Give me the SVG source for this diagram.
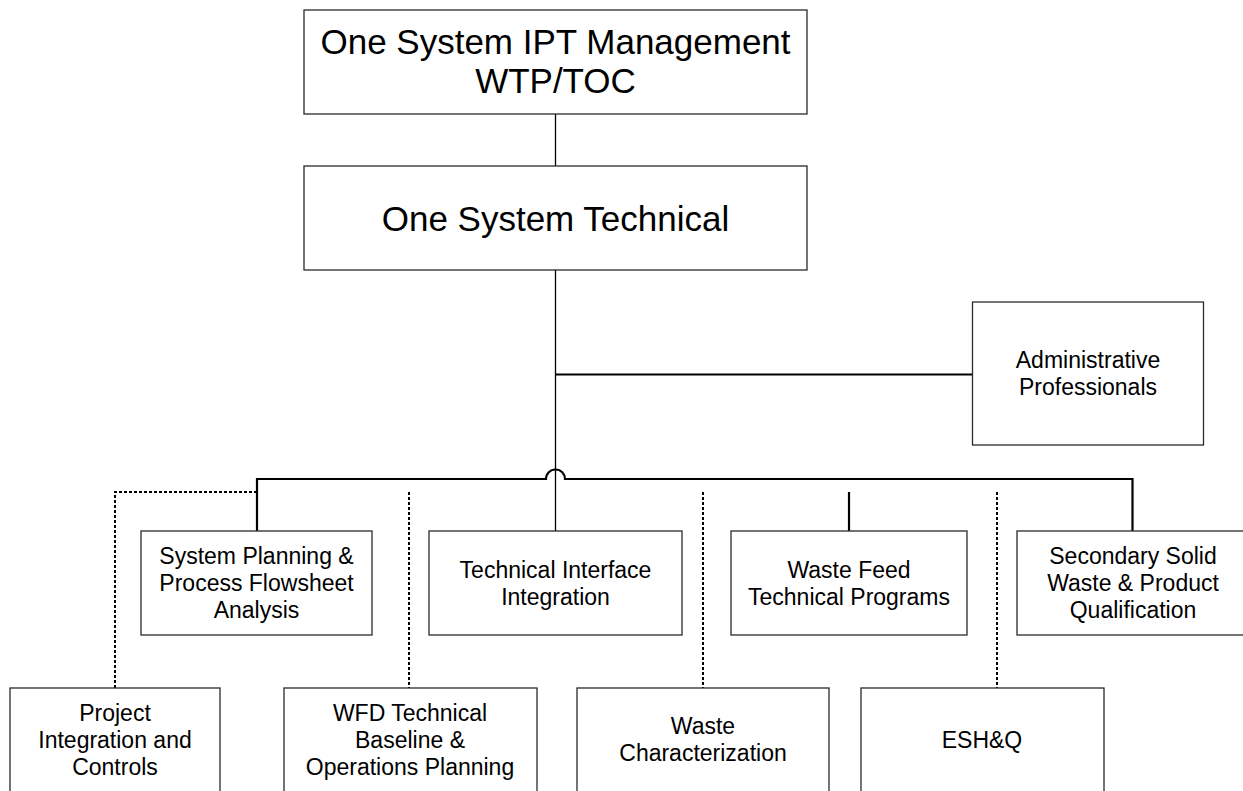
<svg xmlns="http://www.w3.org/2000/svg" width="1243" height="791" viewBox="0 0 1243 791">
  <style>
    .box { fill: #ffffff; stroke: #2a2a2a; stroke-width: 1.3; }
    .lbl { font-family: "Liberation Sans", Arial, sans-serif; font-size: 23px; fill: #000; text-anchor: middle; }
    .big { font-size: 35px; }
    .thin { fill: none; stroke: #000; stroke-width: 1.3; }
    .bold { fill: none; stroke: #000; stroke-width: 2.2; }
    .dot { fill: none; stroke: #000; stroke-width: 2; stroke-dasharray: 3 2; }
  </style>
  <rect width="1243" height="791" fill="#ffffff"/>

  <!-- connectors -->
  <g id="connectors">
    <line class="thin" x1="555.5" y1="114" x2="555.5" y2="166"/>
    <line class="thin" x1="555.5" y1="270" x2="555.5" y2="531"/>
    <line class="bold" x1="555.5" y1="374.5" x2="972" y2="374.5"/>
    <path class="bold" d="M257,531 V479 H546 A9.5,9.5 0 0 1 565,479 H1132.5 V531"/>
    <line class="bold" x1="849" y1="492" x2="849" y2="531"/>
    <path class="dot" d="M257,492 H115 V688"/>
    <line class="dot" x1="409" y1="492" x2="409" y2="688"/>
    <line class="dot" x1="703" y1="492" x2="703" y2="688"/>
    <line class="dot" x1="997" y1="492" x2="997" y2="688"/>
  </g>

  <g id="ipt-management">
    <rect class="box" x="304" y="10" width="503" height="104"/>
    <text class="lbl big" x="555.5" y="54">One System IPT Management</text>
    <text class="lbl big" x="555.5" y="93">WTP/TOC</text>
  </g>

  <g id="technical">
    <rect class="box" x="304" y="166" width="503" height="104"/>
    <text class="lbl big" x="555.5" y="231">One System Technical</text>
  </g>

  <g id="admin">
    <rect class="box" x="972.5" y="302" width="231" height="143"/>
    <text class="lbl" x="1088" y="368">Administrative</text>
    <text class="lbl" x="1088" y="395">Professionals</text>
  </g>

  <g id="system-planning">
    <rect class="box" x="141" y="531" width="231" height="104"/>
    <text class="lbl" x="256.5" y="564">System Planning &amp;</text>
    <text class="lbl" x="256.5" y="591">Process Flowsheet</text>
    <text class="lbl" x="256.5" y="618">Analysis</text>
  </g>

  <g id="interface-integration">
    <rect class="box" x="429" y="531" width="253" height="104"/>
    <text class="lbl" x="555.5" y="578">Technical Interface</text>
    <text class="lbl" x="555.5" y="605">Integration</text>
  </g>

  <g id="waste-feed">
    <rect class="box" x="731" y="531" width="236" height="104"/>
    <text class="lbl" x="849" y="578">Waste Feed</text>
    <text class="lbl" x="849" y="605">Technical Programs</text>
  </g>

  <g id="secondary-waste">
    <rect class="box" x="1017" y="531" width="232" height="104"/>
    <text class="lbl" x="1133" y="564">Secondary Solid</text>
    <text class="lbl" x="1133" y="591">Waste &amp; Product</text>
    <text class="lbl" x="1133" y="618">Qualification</text>
  </g>

  <g id="project-controls">
    <rect class="box" x="10" y="688" width="210" height="110"/>
    <text class="lbl" x="115" y="721">Project</text>
    <text class="lbl" x="115" y="748">Integration and</text>
    <text class="lbl" x="115" y="775">Controls</text>
  </g>

  <g id="wfd-baseline">
    <rect class="box" x="284" y="688" width="253" height="110"/>
    <text class="lbl" x="410" y="721">WFD Technical</text>
    <text class="lbl" x="410" y="748">Baseline &amp;</text>
    <text class="lbl" x="410" y="775">Operations Planning</text>
  </g>

  <g id="waste-characterization">
    <rect class="box" x="577" y="688" width="252" height="110"/>
    <text class="lbl" x="703" y="734">Waste</text>
    <text class="lbl" x="703" y="761">Characterization</text>
  </g>

  <g id="esh-q">
    <rect class="box" x="861" y="688" width="243" height="110"/>
    <text class="lbl" x="982" y="748">ESH&amp;Q</text>
  </g>
</svg>
